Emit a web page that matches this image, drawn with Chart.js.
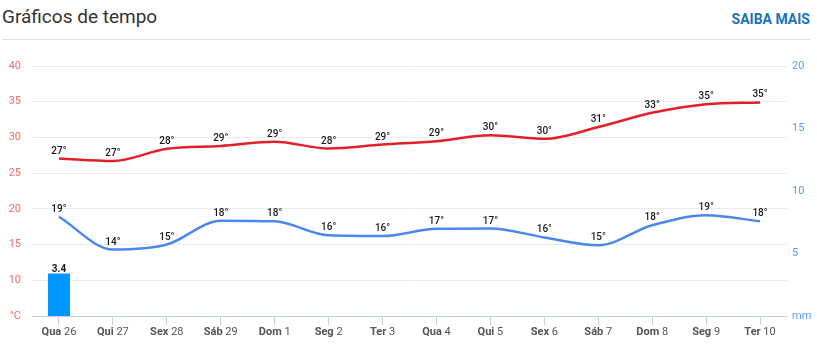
<!DOCTYPE html>
<html>
<head>
<meta charset="utf-8">
<script src="https://cdn.jsdelivr.net/npm/chart.js@4"></script>
<style>
  html, body { margin: 0; padding: 0; background: #fff; }
  body { width: 817px; height: 352px; position: relative; overflow: hidden; font-family: Roboto, "Noto Sans", sans-serif; }
  #title { position: absolute; left: 2px; top: 5px; font-size: 19px; color: #333; font-weight: 400; }
  #more { position: absolute; right: 7px; top: 11px; font-size: 14px; color: #1a73b7; font-weight: 700; }
  #sep { position: absolute; left: 2px; top: 39px; width: 808px; height: 1px; background: #dedede; }
  #wrap { position: absolute; left: 0; top: 0; width: 817px; height: 352px; }
</style>
</head>
<body>
<div id="title">Gráficos de tempo</div>
<div id="more">SAIBA MAIS</div>
<div id="sep"></div>
<div id="wrap"><canvas id="c" width="817" height="352"></canvas></div>
<script>
const dayNames = ["Qua","Qui","Sex","Sáb","Dom","Seg","Ter","Qua","Qui","Sex","Sáb","Dom","Seg","Ter"];
const dayNumbers = ["26","27","28","29","1","2","3","4","5","6","7","8","9","10"];
const maxTemp = [27.05, 26.7, 28.4, 28.8, 29.4, 28.45, 29.0, 29.45, 30.3, 29.8, 31.45, 33.45, 34.65, 34.9];
const minTemp = [18.9, 14.3, 15.0, 18.35, 18.25, 16.3, 16.2, 17.2, 17.25, 16.0, 14.9, 17.7, 19.1, 18.25];
const precip = [3.4, 0, 0, 0, 0, 0, 0, 0, 0, 0, 0, 0, 0, 0];
const tempTicks = [5, 10, 15, 20, 25, 30, 35, 40];
const precipTicks = [0, 5, 10, 15, 20];

const labels = dayNames.map((d, i) => d + " " + dayNumbers[i]);

const valueLabels = {
  id: 'valueLabels',
  afterDatasetsDraw(chart) {
    const ctx = chart.ctx;
    ctx.save();
    ctx.textAlign = 'center';
    ctx.textBaseline = 'alphabetic';
    ctx.fillStyle = '#1a1a1a';
    chart.data.datasets.forEach((ds, di) => {
      const meta = chart.getDatasetMeta(di);
      meta.data.forEach((el, i) => {
        const v = ds.data[i];
        if (ds.type === 'line') {
          ctx.font = '500 10px Roboto, sans-serif';
          ctx.fillText(Math.round(v) + '°', el.x, el.y - 5);
        } else if (v > 0) {
          ctx.font = '700 10px Roboto, sans-serif';
          ctx.fillText(v.toFixed(1), el.x, el.y - 2);
        }
      });
    });
    ctx.restore();
  }
};

const xLabels = {
  id: 'xLabels',
  afterDraw(chart) {
    const ctx = chart.ctx;
    const xs = chart.scales.x;
    ctx.save();
    ctx.textBaseline = 'middle';
    ctx.fillStyle = '#555';
    const y = xs.top + 16;
    labels.forEach((l, i) => {
      const cx = xs.getPixelForTick(i);
      ctx.font = '700 11px Roboto, sans-serif';
      const a = dayNames[i] + ' ';
      const wa = ctx.measureText(a).width;
      ctx.font = '400 11px Roboto, sans-serif';
      const wb = ctx.measureText(dayNumbers[i]).width;
      let x = cx - (wa + wb) / 2;
      ctx.textAlign = 'left';
      ctx.font = '700 11px Roboto, sans-serif';
      ctx.fillText(a, x, y);
      ctx.font = '400 11px Roboto, sans-serif';
      ctx.fillText(dayNumbers[i], x + wa, y);
    });
    ctx.restore();
  }
};

new Chart(document.getElementById('c'), {
  type: 'bar',
  data: {
    labels: labels,
    datasets: [
      { type: 'line', data: maxTemp, yAxisID: 'y', borderColor: '#e3202a', borderWidth: 2.5, pointRadius: 0, tension: 0.4, cubicInterpolationMode: 'monotone', fill: false },
      { type: 'line', data: minTemp, yAxisID: 'y', borderColor: '#4a88ee', borderWidth: 2.5, pointRadius: 0, tension: 0.4, cubicInterpolationMode: 'monotone', fill: false },
      { type: 'bar', data: precip, yAxisID: 'y1', backgroundColor: '#0096ff', barThickness: 22, inflateAmount: 0, borderWidth: 0 }
    ]
  },
  options: {
    responsive: false,
    animation: false,
    events: [],
    layout: { padding: { top: 66, left: 0, right: 0, bottom: 0 } },
    plugins: { legend: { display: false }, tooltip: { enabled: false } },
    scales: {
      x: {
        offset: true,
        grid: { display: true, offset: false, drawOnChartArea: false, drawTicks: true, tickLength: 9, color: '#c2cfe8', lineWidth: 1 },
        border: { display: true, color: '#c2cfe8', width: 1 },
        ticks: { color: 'rgba(0,0,0,0)', font: { size: 11 }, autoSkip: false, maxRotation: 0 },
        afterFit(s) { s.height = 36; }
      },
      y: {
        position: 'left',
        min: 5, max: 40,
        afterBuildTicks(s) { s.ticks = tempTicks.map(v => ({ value: v })); },
        grid: { color: '#ececec', drawTicks: false, lineWidth: 1 },
        border: { display: false },
        ticks: {
          color: '#f76b6b', padding: 11,
          font: { family: 'Roboto', size: 11 },
          callback: (v) => v === 5 ? '°C' : v
        },
        afterFit(s) { s.width = 32; }
      },
      y1: {
        position: 'right',
        min: 0, max: 20,
        afterBuildTicks(s) { s.ticks = precipTicks.map(v => ({ value: v })); },
        grid: { display: false, drawTicks: false },
        border: { display: false },
        ticks: {
          color: '#5c9cf7', padding: 5,
          font: { family: 'Roboto', size: 11 },
          callback: (v) => v === 0 ? 'mm' : v
        },
        afterFit(s) { s.width = 30; }
      }
    }
  },
  plugins: [valueLabels, xLabels]
});
</script>
</body>
</html>
